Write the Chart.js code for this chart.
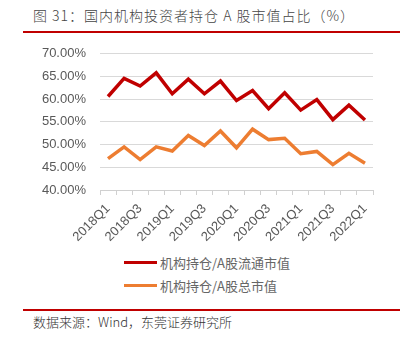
<!DOCTYPE html>
<html>
<head>
<meta charset="utf-8">
<script src="https://cdn.jsdelivr.net/npm/chart.js@4"></script>
<style>
  html, body { margin: 0; padding: 0; background: #fff; }
  body { width: 417px; height: 339px; position: relative; overflow: hidden; font-family: "Noto Sans CJK SC", sans-serif; }
  #title { position: absolute; left: 33px; top: 5px; font-size: 14px; color: #444; white-space: nowrap; letter-spacing: 1px; font-weight: 300; }
  .rule { position: absolute; left: 23px; width: 377px; height: 2px; background: #c00000; }
  #chartBox { position: absolute; left: 0; top: 32px; width: 417px; height: 213px; }
  #legend { position: absolute; left: 124px; top: 251px; font-size: 13px; color: #666; }
  .item { height: 23px; display: flex; align-items: center; }
  .swatch { width: 33px; height: 3px; margin-right: 3px; }
  #source { position: absolute; left: 33px; top: 312px; font-size: 13px; color: #333; white-space: nowrap; font-weight: 300; }
</style>
</head>
<body>
<div id="title">图 31：国内机构投资者持仓 A 股市值占比（%）</div>
<div class="rule" style="top:31px"></div>
<div id="chartBox"><canvas id="c"></canvas></div>
<div id="legend"></div>
<div class="rule" style="top:309px"></div>
<div id="source">数据来源：Wind，东莞证券研究所</div>
<script>
const categories = ["2018Q1","2018Q2","2018Q3","2018Q4","2019Q1","2019Q2","2019Q3","2019Q4","2020Q1","2020Q2","2020Q3","2020Q4","2021Q1","2021Q2","2021Q3","2021Q4","2022Q1"];
const seriesNames = ["机构持仓/A股流通市值", "机构持仓/A股总市值"];
const floatShare = [60.6, 64.6, 62.9, 65.8, 61.2, 64.4, 61.2, 64.0, 59.7, 61.9, 57.9, 61.4, 57.6, 59.9, 55.5, 58.7, 55.4];
const totalShare = [46.9, 49.5, 46.7, 49.5, 48.6, 52.0, 49.8, 53.0, 49.3, 53.4, 51.1, 51.4, 48.0, 48.5, 45.6, 48.1, 45.9];
const yTicks = [40, 45, 50, 55, 60, 65, 70];
const colors = ["#c00000", "#ed7d31"];

const ctx = document.getElementById('c');
const chart = new Chart(ctx, {
  type: 'line',
  data: {
    labels: categories,
    datasets: [
      { label: seriesNames[0], data: floatShare, borderColor: colors[0], backgroundColor: colors[0], borderWidth: 3.5, pointRadius: 0, tension: 0 },
      { label: seriesNames[1], data: totalShare, borderColor: colors[1], backgroundColor: colors[1], borderWidth: 3.5, pointRadius: 0, tension: 0 }
    ]
  },
  options: {
    responsive: true,
    maintainAspectRatio: false,
    animation: false,
    layout: { padding: { left: 0, right: 44, top: -2, bottom: 0 } },
    plugins: { legend: { display: false }, tooltip: { enabled: false } },
    scales: {
      x: {
        offset: true,
        grid: { offset: true, drawOnChartArea: false, drawTicks: true, tickLength: 5, color: '#d0d0d0' },
        border: { color: '#d0d0d0' },
        ticks: {
          autoSkip: false, minRotation: 45, maxRotation: 45, padding: 6,
          color: '#595959', font: { family: 'Liberation Sans', size: 13 },
          callback: function(v, i) { return i % 2 === 0 ? categories[i] : ''; }
        },
        afterFit: function(s) { s.height = 55; }
      },
      y: {
        min: 40, max: 70,
        afterBuildTicks: function(s) { s.ticks = yTicks.map(v => ({ value: v })); },
        grid: { color: '#d9d9d9', drawTicks: false, lineWidth: 1 },
        border: { display: false },
        ticks: {
          padding: 14, color: '#595959', font: { family: 'Liberation Sans', size: 13 },
          callback: function(v) { return Number(v).toFixed(2) + '%'; }
        },
        afterFit: function(s) { s.width = 100; }
      }
    }
  }
});

const legend = document.getElementById('legend');
chart.data.datasets.forEach(ds => {
  const item = document.createElement('div');
  item.className = 'item';
  const sw = document.createElement('span');
  sw.className = 'swatch';
  sw.style.background = ds.borderColor;
  const tx = document.createElement('span');
  tx.textContent = ds.label;
  item.appendChild(sw); item.appendChild(tx);
  legend.appendChild(item);
});
</script>
</body>
</html>
